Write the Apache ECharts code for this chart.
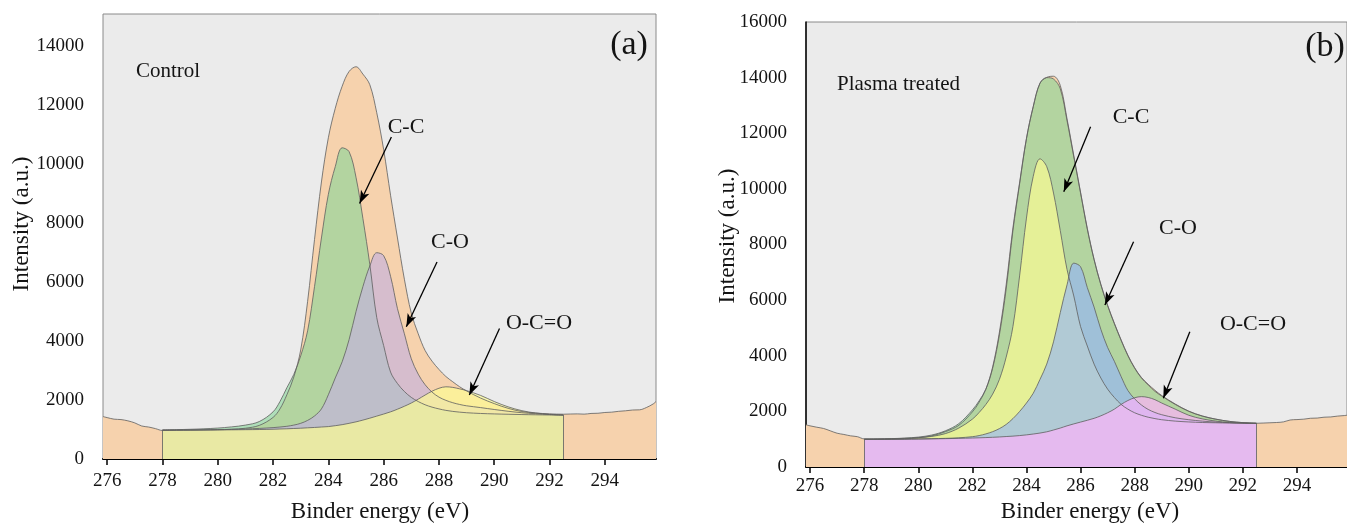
<!DOCTYPE html>
<html>
<head>
<meta charset="utf-8">
<script src="https://cdn.jsdelivr.net/npm/echarts@6/dist/echarts.min.js"></script>
<style>
  html, body { margin: 0; padding: 0; background: #ffffff; }
  #chart { width: 1347px; height: 523px; }
</style>
</head>
<body>
<div id="chart"></div>
<script>
// C 1s XPS spectra with peak deconvolution: control film (a) and plasma-treated film (b)

const xTickLabels = [276, 278, 280, 282, 284, 286, 288, 290, 292, 294];
const xMinorTicks = [277, 279, 281, 283, 285, 287, 289, 291, 293, 295];

// measured spectrum energy grid (eV)
const energyRaw = [
  275.85, 276, 276.25, 276.5, 276.75, 277, 277.25, 277.5, 277.75, 278,
  278.5, 279, 279.5, 280, 280.5, 281, 281.5, 282,
  282.25, 282.5, 282.75, 283, 283.25, 283.5, 283.75, 284, 284.25, 284.5, 284.75,
  285, 285.25, 285.5, 285.75, 286, 286.25, 286.5, 286.75, 287, 287.25, 287.5, 287.75,
  288, 288.25, 288.5, 288.75, 289,
  289.5, 290, 290.5, 291, 291.5, 292, 292.5,
  292.75, 293, 293.25, 293.5, 293.75, 294, 294.25, 294.5, 294.75, 295, 295.25, 295.5, 295.75, 295.85
];

// (a) Control: measured intensity
const rawControl = [
  1440, 1405, 1352, 1338, 1295, 1225, 1120, 1085, 1030, 968,
  972, 975, 982, 990, 1008, 1045, 1140, 1410,
  1700, 2180, 2780, 3700, 5350, 7450, 9400, 10900, 11900, 12650, 13150,
  13310, 13060, 12700, 11750, 10500, 8950, 7500, 6100, 4950, 4250, 3680, 3320,
  3040, 2800, 2620, 2450, 2310,
  2070, 1880, 1720, 1610, 1560, 1532, 1520,
  1526, 1531, 1522, 1546, 1552, 1578, 1590, 1618, 1636, 1662, 1668, 1745, 1870, 1950
];

// (b) Plasma treated: measured intensity
const rawPlasma = [
  1515, 1480, 1430, 1385, 1300, 1215, 1170, 1120, 1090, 1010,
  1000, 1005, 1015, 1050, 1120, 1270, 1500, 1980,
  2330, 2800, 3600, 4850, 6550, 8600, 10250, 11820, 12960, 13800, 14010,
  14050, 13720, 12520, 11200, 9880, 8580, 7470, 6570, 5820, 5170, 4570, 4020,
  3570, 3220, 2975, 2760, 2570,
  2265, 2010, 1835, 1720, 1640, 1595, 1572,
  1580, 1590, 1600, 1622, 1690, 1705, 1720, 1752, 1760, 1790, 1800, 1830, 1850, 1860
];

// fitted components energy grid (eV)
const fitEnergy = [
  278, 278.5, 279, 279.5, 280, 280.5, 281, 281.5, 282,
  282.25, 282.5, 282.75, 283, 283.25, 283.5, 283.75, 284, 284.25, 284.5, 284.75,
  285, 285.25, 285.5, 285.75, 286, 286.25, 286.5, 286.75, 287, 287.25, 287.5, 287.75,
  288, 288.25, 288.5, 288.75, 289,
  289.5, 290, 290.5, 291, 291.5, 292, 292.5
];

// (a) components, background included
const ccControl = [
  985, 995, 1008, 1025, 1050, 1090, 1150, 1270, 1600,
  1950, 2420, 2870, 3500, 4350, 5850, 7500, 8980, 9920, 10560, 10430,
  9560, 8160, 6600, 4800, 3850, 2950, 2560, 2290, 2090, 1950, 1840, 1760,
  1700, 1650, 1615, 1590, 1570,
  1545, 1530, 1518, 1508, 1500, 1494, 1490
];
const coControl = [
  982, 986, 990, 995, 1000, 1008, 1020, 1038, 1065,
  1085, 1110, 1150, 1210, 1310, 1460, 1700, 2180, 2750, 3300, 4050,
  5000, 5850, 6550, 7000, 6900, 6200, 5100, 4250, 3400, 2880, 2520, 2270,
  2100, 1990, 1910, 1850, 1805,
  1745, 1680, 1620, 1570, 1535, 1508, 1490
];
const ocoControl = [
  980, 980, 982, 984, 987, 990, 995, 1000, 1010,
  1018, 1025, 1035, 1045, 1058, 1070, 1085, 1100, 1130, 1165, 1210,
  1260, 1320, 1385, 1455, 1525, 1600, 1690, 1790, 1900, 2030, 2170, 2300,
  2400, 2450, 2430, 2380, 2320,
  2160, 1950, 1770, 1640, 1560, 1515, 1490
];

// (b) components, background included
const envelopePlasma = [
  1000, 1010, 1020, 1040, 1075, 1150, 1300, 1560, 2050,
  2380, 2800, 3550, 4750, 6400, 8500, 10200, 11800, 12950, 13800, 14000,
  13950, 13600, 12450, 11150, 9850, 8550, 7450, 6550, 5800, 5150, 4550, 4000,
  3550, 3200, 2950, 2720, 2550,
  2250, 2000, 1830, 1720, 1640, 1595, 1570
];
const ccPlasma = [
  1000, 1005, 1015, 1030, 1055, 1100, 1200, 1400, 1720,
  1960, 2250, 2620, 3150, 3950, 5050, 6900, 8950, 10450, 11080, 10800,
  9850, 8500, 7100, 6150, 5050, 4350, 3700, 3200, 2800, 2500, 2250, 2080,
  1950, 1860, 1790, 1740, 1700,
  1650, 1620, 1600, 1590, 1580, 1575, 1570
];
const coPlasma = [
  995, 997, 1000, 1004, 1010, 1018, 1030, 1050, 1090,
  1130, 1190, 1270, 1380, 1530, 1740, 2000, 2300, 2650, 3150, 3700,
  4500, 5550, 6550, 7330, 7200, 6450, 5750, 4950, 4300, 3800, 3250, 2750,
  2450, 2230, 2070, 1960, 1880,
  1770, 1700, 1650, 1615, 1595, 1580, 1570
];
const ocoPlasma = [
  995, 995, 997, 1000, 1005, 1012, 1020, 1030, 1042,
  1050, 1058, 1068, 1080, 1095, 1110, 1130, 1155, 1185, 1220, 1265,
  1330, 1400, 1480, 1550, 1615, 1680, 1750, 1840, 1950, 2080, 2250, 2390,
  2490, 2530, 2500, 2420, 2300,
  2080, 1860, 1730, 1650, 1600, 1578, 1570
];

const FONT = '"Liberation Serif", "DejaVu Serif", serif';
const TEXT = '#141414';
const EDGE = 'rgba(95,95,95,0.8)';

const pairs = (xs, ys) => xs.map((x, i) => [x, ys[i]]);

function filled(name, xs, ys, fill, xi, yi, extra) {
  return Object.assign({
    name: name,
    type: 'line',
    xAxisIndex: xi,
    yAxisIndex: yi,
    data: pairs(xs, ys),
    smooth: 0.35,
    showSymbol: false,
    symbol: 'none',
    lineStyle: { color: EDGE, width: 1 },
    areaStyle: { color: fill, opacity: 1, origin: 'start' },
    silent: true
  }, extra || {});
}

// black arrows pointing from each label to its curve
function arrows(items) {
  return {
    markLine: {
      silent: true,
      animation: false,
      symbol: ['none', 'arrow'],
      symbolSize: [7, 13],
      label: { show: false },
      lineStyle: { color: '#000', width: 1.3, type: 'solid' },
      emphasis: { disabled: true },
      data: items.map(([from, to]) => [{ coord: from }, { coord: to }])
    }
  };
}

// grey vertical edges closing the fitted region at both ends
function edges(xs, ys) {
  const last = xs.length - 1;
  return {
    markLine: {
      silent: true,
      animation: false,
      symbol: ['none', 'none'],
      label: { show: false },
      lineStyle: { color: EDGE, width: 1, type: 'solid' },
      emphasis: { disabled: true },
      data: [
        [{ coord: [xs[0], 0] }, { coord: [xs[0], ys[0]] }],
        [{ coord: [xs[last], 0] }, { coord: [xs[last], ys[last]] }]
      ]
    }
  };
}

function xAxes(gridIndex) {
  const base = {
    gridIndex: gridIndex, type: 'value', min: 275.85, max: 295.85,
    splitLine: { show: false }
  };
  return [
    Object.assign({}, base, {
      axisLine: { show: true, onZero: false, lineStyle: { color: '#000', width: 2 } },
      axisTick: { show: true, customValues: xTickLabels, length: 6, lineStyle: { color: '#000', width: 1.5 } },
      axisLabel: { customValues: xTickLabels, fontFamily: FONT, fontSize: 19, color: TEXT, margin: gridIndex === 0 ? 13 : 10 }
    }),
    Object.assign({}, base, {
      axisLine: { show: false },
      axisTick: { show: true, customValues: xMinorTicks, length: 3.5, lineStyle: { color: '#000', width: 1.3 } },
      axisLabel: { show: false }
    })
  ];
}

function yAxis(gridIndex, max, lineShown) {
  return {
    gridIndex: gridIndex, type: 'value', min: 0, max: max, interval: 2000,
    splitLine: { show: false },
    axisLine: { show: lineShown, onZero: false, lineStyle: { color: '#000', width: 1.5 } },
    axisTick: { show: false },
    axisLabel: {
      fontFamily: FONT, fontSize: 19, color: TEXT, margin: 19,
      showMaxLabel: max % 2000 === 0,
      formatter: (v) => String(v)
    }
  };
}

function label(text, x, y, size, align, rotation) {
  return {
    type: 'text', x: x, y: y, rotation: rotation || 0, silent: true,
    style: {
      text: text, fill: TEXT, font: size + 'px ' + FONT,
      textAlign: align || 'center', textVerticalAlign: 'middle'
    }
  };
}

const option = {
  animation: false,
  backgroundColor: '#ffffff',
  grid: [
    { left: 103, top: 14, width: 553, height: 445, show: true, backgroundColor: '#ebebeb', borderColor: '#8a8a8a', borderWidth: 1 },
    { left: 806, top: 22, width: 579, height: 445, show: true, backgroundColor: '#ebebeb', borderColor: '#8a8a8a', borderWidth: 1 }
  ],
  xAxis: xAxes(0).concat(xAxes(1)),
  yAxis: [yAxis(0, 15100, false), yAxis(1, 16000, true)],
  series: [
    // (a) Control
    filled('Raw data', energyRaw, rawControl, '#f6d2ad', 0, 0),
    filled('C-C', fitEnergy, ccControl, 'rgba(135,213,151,0.6)', 0, 0),
    filled('C-O', fitEnergy, coControl, 'rgba(195,176,223,0.64)', 0, 0, arrows([
      [[286.28, 10925], [285.13, 8668]],
      [[287.93, 6688], [286.82, 4485]],
      [[290.19, 4431], [289.10, 2169]]
    ])),
    filled('O-C=O', fitEnergy, ocoControl, 'rgba(254,253,146,0.67)', 0, 0, edges(fitEnergy, ocoControl)),
    // (b) Plasma treated
    filled('Raw data', energyRaw, rawPlasma, '#f6d2ad', 2, 1),
    filled('Envelope', fitEnergy, envelopePlasma, 'rgba(135,213,151,0.6)', 2, 1),
    filled('C-C', fitEnergy, ccPlasma, 'rgba(254,253,146,0.67)', 2, 1),
    filled('C-O', fitEnergy, coPlasma, 'rgba(149,181,246,0.65)', 2, 1, arrows([
      [[286.37, 12237], [285.38, 9899]],
      [[287.96, 8101], [286.90, 5825]],
      [[290.04, 4865], [289.06, 2470]]
    ])),
    filled('O-C=O', fitEnergy, ocoPlasma, 'rgba(255,177,252,0.67)', 2, 1, edges(fitEnergy, ocoPlasma))
  ],
  graphic: [
    label('(a)', 629, 45, 34),
    label('Control', 136, 71, 21, 'left'),
    label('C-C', 406, 127, 22),
    label('C-O', 450, 242, 22),
    label('O-C=O', 539, 323, 22),
    label('Binder energy (eV)', 380, 512, 23),
    label('Intensity (a.u.)', 22, 224, 23, 'center', Math.PI / 2),

    label('(b)', 1325, 47, 34),
    label('Plasma treated', 837, 84, 21, 'left'),
    label('C-C', 1131, 117, 22),
    label('C-O', 1178, 228, 22),
    label('O-C=O', 1253, 324, 22),
    label('Binder energy (eV)', 1090, 512, 23),
    label('Intensity (a.u.)', 728, 236, 23, 'center', Math.PI / 2)
  ]
};

const chart = echarts.init(document.getElementById('chart'), null, { renderer: 'canvas' });
chart.setOption(option);
</script>
</body>
</html>
